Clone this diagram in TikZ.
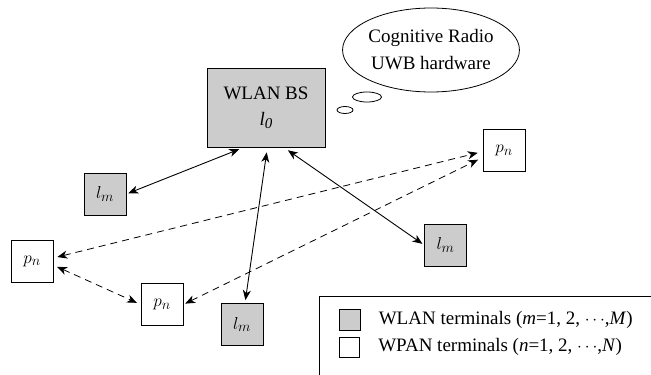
\documentclass[tikz,border=0pt]{standalone}
\usepackage{fontspec}
\setmainfont{Liberation Serif}
\usetikzlibrary{arrows.meta,positioning,shapes.geometric}

\begin{document}
\begin{tikzpicture}[x=1pt, y=-1pt, font=\fontsize{19}{22}\selectfont,
  line width=0.8pt, >={Stealth[length=10pt,width=8pt,inset=3pt]},
  wlan/.style={draw, fill=gray!40, minimum size=42pt, inner sep=0pt},
  wpan/.style={draw, fill=white, minimum size=42pt, inner sep=0pt},
  bubble/.style={draw, ellipse, inner sep=0pt},
  link/.style={<->, line width=0.9pt},
  plink/.style={<->, dash pattern=on 7pt off 5pt}]
\useasboundingbox (0,0) rectangle (651,375);

% base station and its thought cloud
\node[draw, fill=gray!40, minimum width=118pt, minimum height=79pt, align=center] (bs) at (266,107.5)
  {WLAN BS\\[4pt]\textit{l}\raisebox{-.35ex}{\textit{\fontsize{15}{15}\selectfont 0}}};
\node[bubble, minimum width=168pt, minimum height=84pt, align=center] (cloud) at (431,50)
  {Cognitive Radio\\[5pt]UWB hardware};
\node[bubble, minimum width=29pt, minimum height=10pt] (bubA) at (367,97) {};
\node[bubble, minimum width=16pt, minimum height=7pt] (bubB) at (345,110) {};

% terminals
\node[wlan] (lmA) at (105,194) {$l_m$};
\node[wlan] (lmB) at (242,324.5) {$l_m$};
\node[wlan] (lmC) at (445.5,245) {$l_m$};
\node[wpan] (pnA) at (32,261) {$p_n$};
\node[wpan] (pnB) at (162,304.5) {$p_n$};
\node[wpan] (pnC) at (504,150.5) {$p_n$};

% WLAN links
\draw[link, shorten <=2pt, shorten >=5pt] (lmA.east) -- (bs.-119);
\draw[link, shorten <=5pt, shorten >=3pt] (bs.-88) -- (lmB.82);
\draw[link, shorten <=5pt, shorten >=2pt] (bs.-66) -- (lmC.west);

% WPAN links
\draw[plink, shorten <=4pt, shorten >=5pt] (pnA.8) -- (pnC.183);
\draw[plink, shorten <=2pt, shorten >=5pt] (pnB.east) -- (pnC.198);
\draw[plink, shorten <=4pt, shorten >=4pt] (pnA.-11) -- (pnB.west);

% legend
\draw (319,375) -- (319,296) -- (651,296);
\node[draw, fill=gray!40, minimum size=21pt, inner sep=0pt] (keyA) at (349.5,319.5) {};
\node[draw, fill=white, minimum size=20pt, inner sep=0pt] (keyB) at (349.5,347) {};
\node[inner sep=0pt, anchor=west, right=18pt of keyA] (keyAtext)
  {WLAN terminals (\textit{m}=1, 2, $\cdots$,\textit{M})};
\node[inner sep=0pt, anchor=west, right=18pt of keyB] (keyBtext)
  {WPAN terminals (\textit{n}=1, 2, $\cdots$,\textit{N})};
\end{tikzpicture}
\end{document}
